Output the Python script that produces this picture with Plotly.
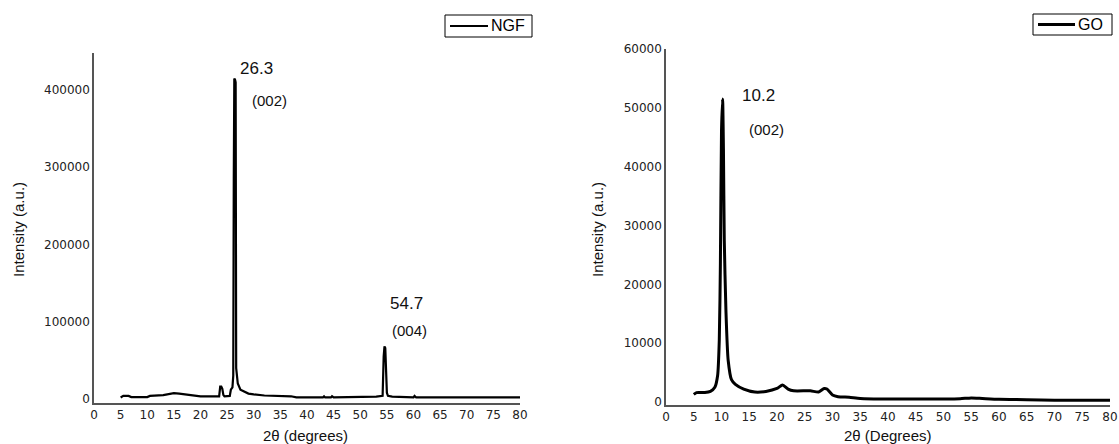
import plotly.graph_objects as go

W, H = 1119, 444

# ---- data ----
ngf_x = [5.0, 5.5, 6.5, 7.0, 10.0, 10.5, 13.0, 15.0, 16.0, 17.0, 19.0, 20.0, 23.5, 23.7, 23.9, 24.1, 24.3, 24.5,
         25.5, 25.7, 26.0, 26.15, 26.25, 26.35, 26.5, 26.6, 26.7, 26.85, 27.0, 27.5, 28.0, 29.0, 30.0, 32.0, 37.0,
         38.0, 43.0, 43.2, 43.4, 44.5, 44.7, 45.0, 53.0, 54.2, 54.4, 54.55, 54.7, 54.85, 55.0, 55.2, 56.0, 60.0,
         60.2, 60.5, 70.0, 80.0]
ngf_y = [2000, 4000, 4000, 2500, 2500, 4000, 5000, 7500, 7000, 6000, 4500, 3500, 3500, 16000, 16000, 13000, 5000, 3500,
         4000, 12000, 15000, 30000, 285000, 415000, 413000, 410000, 40000, 30000, 20000, 12000, 10000, 7000, 6000, 4500, 3500,
         2000, 2000, 3500, 2000, 2000, 3500, 2000, 3000, 4000, 55000, 68000, 66000, 30000, 8000, 4000, 3000, 2000,
         4000, 2000, 2000, 2000]

go_x = [5.0, 5.5, 7.0, 8.0, 8.8, 9.3, 9.6, 9.8, 10.0, 10.2, 10.35, 10.5, 10.8, 11.2, 11.8, 12.5, 14.0, 16.0, 18.0,
        20.0, 21.0, 22.0, 23.0, 26.0, 27.5, 28.5, 29.0, 30.0, 31.0, 33.0, 35.0, 40.0, 50.0, 53.0, 55.0, 57.0, 60.0,
        65.0, 70.0, 80.0]
go_y = [1300, 1600, 1600, 1800, 2500, 4500, 10500, 23500, 46000, 51500, 43000, 27500, 15500, 7100, 3800, 3000, 2200,
        1700, 1800, 2300, 2900, 2200, 1900, 1900, 1700, 2300, 2200, 1200, 900, 800, 600, 500, 500, 550, 700, 600, 450,
        400, 300, 300]

x_ticks = list(range(0, 81, 5))
ngf_yticks = [0, 100000, 200000, 300000, 400000]
go_yticks = [0, 10000, 20000, 30000, 40000, 50000, 60000]
series_names = ["NGF", "GO"]


def px(x):
    return x / W


def py(y):
    return 1 - y / H


fig = go.Figure()
fig.add_trace(go.Scatter(x=ngf_x, y=ngf_y, mode="lines", name=series_names[0], showlegend=False,
                         line=dict(color="black", width=2.2), xaxis="x", yaxis="y"))
fig.add_trace(go.Scatter(x=go_x, y=go_y, mode="lines", name=series_names[1], line_shape="spline", showlegend=False,
                         line=dict(color="black", width=3, smoothing=0.6), xaxis="x2", yaxis="y2"))

tickfont = dict(family="DejaVu Sans", size=12, color="#222")
axline = dict(showline=True, linecolor="#555", linewidth=1.5, showgrid=False, zeroline=False, ticks="",
              tickfont=tickfont, automargin=False)

fig.update_layout(
    width=W, height=H, margin=dict(l=0, r=0, t=0, b=0, autoexpand=False),
    plot_bgcolor="white", paper_bgcolor="white",
    font=dict(family="Liberation Sans, Arial", color="black"),
    xaxis=dict(domain=[px(94), px(520)], range=[0, 80], tickvals=x_ticks, anchor="y", **axline),
    yaxis=dict(domain=[py(403), py(53)], range=[-5200, 447900], tickvals=ngf_yticks, tickformat="d",
               anchor="x", **axline),
    xaxis2=dict(domain=[px(666), px(1110)], range=[0, 80], tickvals=x_ticks, anchor="y2", **axline),
    yaxis2=dict(domain=[py(405), py(49)], range=[-510, 60000], tickvals=go_yticks, tickformat="d",
                anchor="x2", **axline),
    showlegend=False,
)

# legend boxes (drawn as shapes + real text)
legends = [
    (series_names[0], 445, 532, 15, 37, 450, 488, 2.2),
    (series_names[1], 1033, 1112, 14, 35, 1038, 1075, 3),
]
for name, x0, x1, y0, y1, l0, l1, lw in legends:
    fig.add_shape(type="rect", xref="paper", yref="paper", x0=px(x0), x1=px(x1), y0=py(y1), y1=py(y0),
                  line=dict(color="black", width=1), fillcolor="white")
    ym = (y0 + y1) / 2
    fig.add_shape(type="line", xref="paper", yref="paper", x0=px(l0), x1=px(l1), y0=py(ym), y1=py(ym),
                  line=dict(color="black", width=lw))
    fig.add_annotation(text=name, x=px(l1 + 1), y=py(ym), xref="paper", yref="paper", showarrow=False,
                       xanchor="left", yanchor="middle", font=dict(size=16, color="black"))

ann = [
    dict(text="Intensity (a.u.)", x=px(18), y=py(230), textangle=-90, size=15),
    dict(text="Intensity (a.u.)", x=px(597), y=py(230), textangle=-90, size=15),
    dict(text="2θ (degrees)", x=px(305), y=py(435), size=15),
    dict(text="2θ (Degrees)", x=px(888), y=py(435), size=15),
]
for a in ann:
    fig.add_annotation(text=a["text"], x=a["x"], y=a["y"], xref="paper", yref="paper", showarrow=False,
                       textangle=a.get("textangle", 0), font=dict(size=a["size"], color="#111"),
                       xanchor="center", yanchor="middle")

labels = [
    ("26.3", 238, 69, 17), ("(002)", 250, 100, 15),
    ("54.7", 388, 303, 17), ("(004)", 390, 330, 15),
    ("10.2", 740, 95, 17), ("(002)", 747, 129, 15),
]
for t, lx, ly, s in labels:
    fig.add_annotation(text=t, x=px(lx), y=py(ly), xref="paper", yref="paper", showarrow=False,
                       xanchor="left", yanchor="middle", font=dict(size=s, color="#111"))

fig.write_html("out.html", config={"displayModeBar": False},
               post_script="document.body.style.margin='0';document.body.style.padding='0';")
